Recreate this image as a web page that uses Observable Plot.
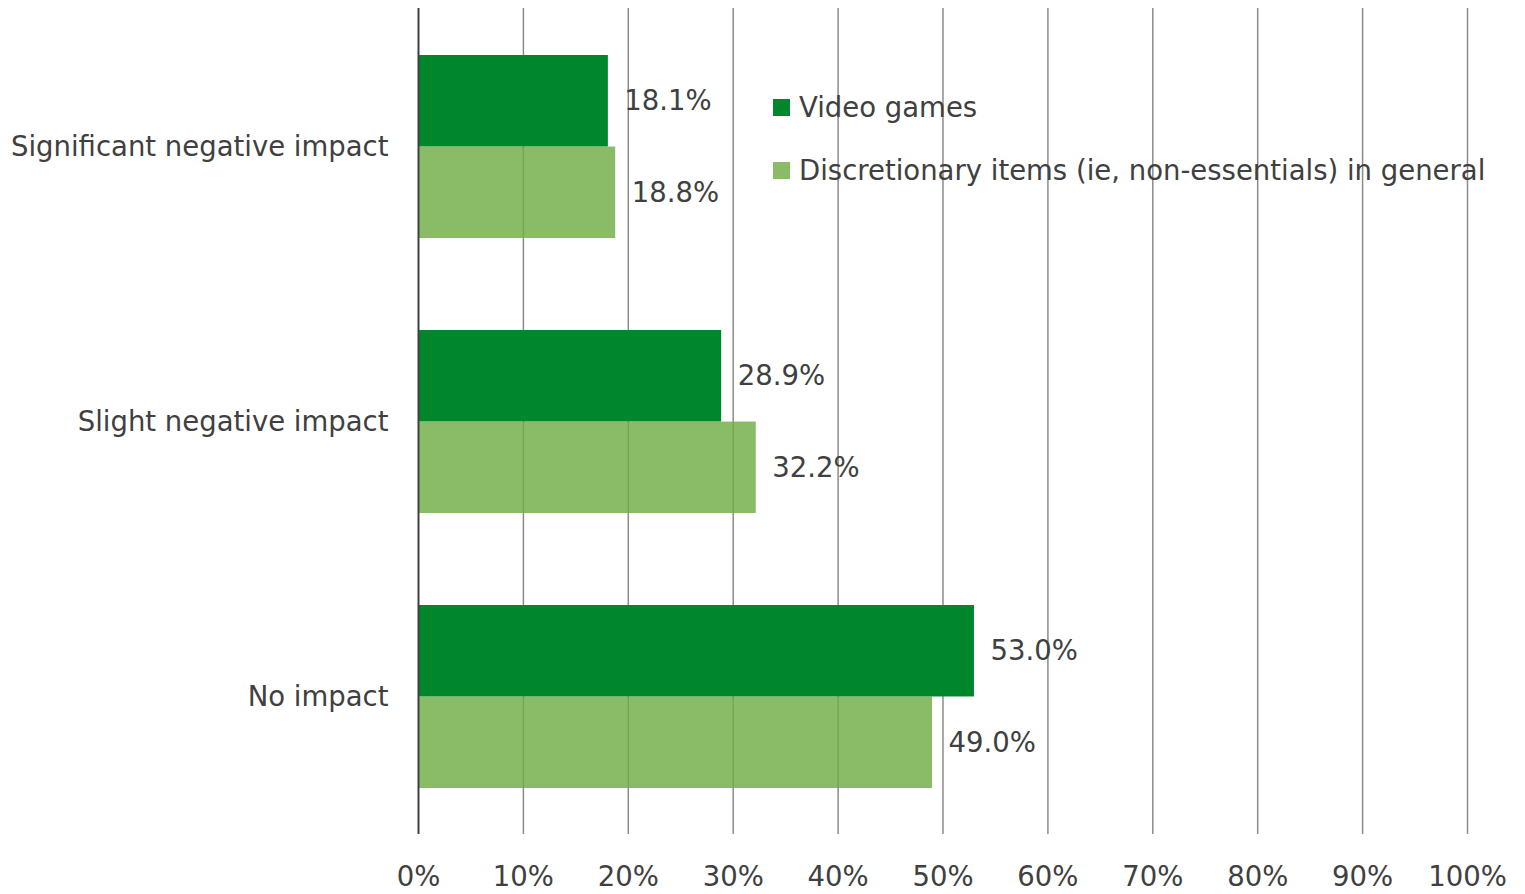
<!DOCTYPE html>
<html>
<head>
<meta charset="utf-8">
<script src="https://cdn.jsdelivr.net/npm/d3@7"></script>
<script src="https://cdn.jsdelivr.net/npm/@observablehq/plot@0.6"></script>
<style>
  html, body { margin: 0; padding: 0; background: #fff; }
  #wrap { position: relative; width: 1525px; height: 894px; font-family: "DejaVu Sans", sans-serif; color: #404040; }
  #legend { position: absolute; left: 773px; top: 90px; font-size: 27.5px; }
  .item { display: flex; align-items: center; height: 34px; margin-bottom: 29px; white-space: nowrap; }
  .sw { width: 17px; height: 17px; margin-right: 9px; }
</style>
</head>
<body>
<div id="wrap"></div>
<script>
const categories = ["Significant negative impact", "Slight negative impact", "No impact"];
const seriesNames = ["Video games", "Discretionary items (ie, non-essentials) in general"];
const videoGames = [18.1, 28.9, 53.0];
const discretionary = [18.8, 32.2, 49.0];
const xTicks = [0, 10, 20, 30, 40, 50, 60, 70, 80, 90, 100];

const colors = ["#00872b", "#70ad47"];
const rowsV = categories.map((c, i) => ({category: c, value: videoGames[i]}));
const rowsD = categories.map((c, i) => ({category: c, value: discretionary[i]}));

const W = 1525, H = 894, mT = 8, mB = 60, mL = 418, mR = 58;
const padIn = 0.335, padOut = padIn / 2;
const step = (H - mT - mB) / (categories.length - padIn + 2 * padOut);
const half = step * (1 - padIn) / 2;

const font = "'DejaVu Sans', sans-serif";
const fs = 27.5;

const chart = Plot.plot({
  width: W, height: H,
  marginTop: mT, marginBottom: mB, marginLeft: mL, marginRight: mR,
  style: {fontFamily: font, fontSize: fs + "px", color: "#404040", background: "#fff"},
  x: {domain: [0, 100], ticks: xTicks, tickFormat: d => d + "%"},
  y: {domain: categories, paddingInner: padIn, paddingOuter: padOut},
  marks: [
    Plot.ruleX(xTicks.slice(1), {stroke: "#8c8c8c", strokeWidth: 1.5}),
    Plot.barX(rowsD, {x: "value", y: "category", fill: colors[1], fillOpacity: 0.82, insetTop: half}),
    Plot.barX(rowsV, {x: "value", y: "category", fill: colors[0], insetBottom: half}),
    Plot.ruleX([0], {stroke: "#404040", strokeWidth: 2}),
    Plot.text(rowsV, {x: "value", y: "category", text: d => d.value.toFixed(1) + "%", dx: 16, dy: -half / 2, textAnchor: "start", fill: "#404040", fontSize: fs}),
    Plot.text(rowsD, {x: "value", y: "category", text: d => d.value.toFixed(1) + "%", dx: 16, dy: half / 2, textAnchor: "start", fill: "#404040", fontSize: fs}),
    Plot.axisX({ticks: xTicks, tickFormat: d => d + "%", tickSize: 0, tickPadding: 32, fontSize: fs, label: null}),
    Plot.axisY({tickSize: 0, tickPadding: 30, fontSize: fs, label: null})
  ]
});

const wrap = document.getElementById("wrap");
wrap.appendChild(chart);
const legend = document.createElement("div");
legend.id = "legend";
seriesNames.forEach((name, i) => {
  const item = document.createElement("div");
  item.className = "item";
  const sw = document.createElement("span");
  sw.className = "sw";
  sw.style.background = colors[i];
  if (i === 1) sw.style.opacity = 0.82;
  const t = document.createElement("span");
  t.textContent = name;
  item.appendChild(sw);
  item.appendChild(t);
  legend.appendChild(item);
});
wrap.appendChild(legend);
</script>
</body>
</html>
